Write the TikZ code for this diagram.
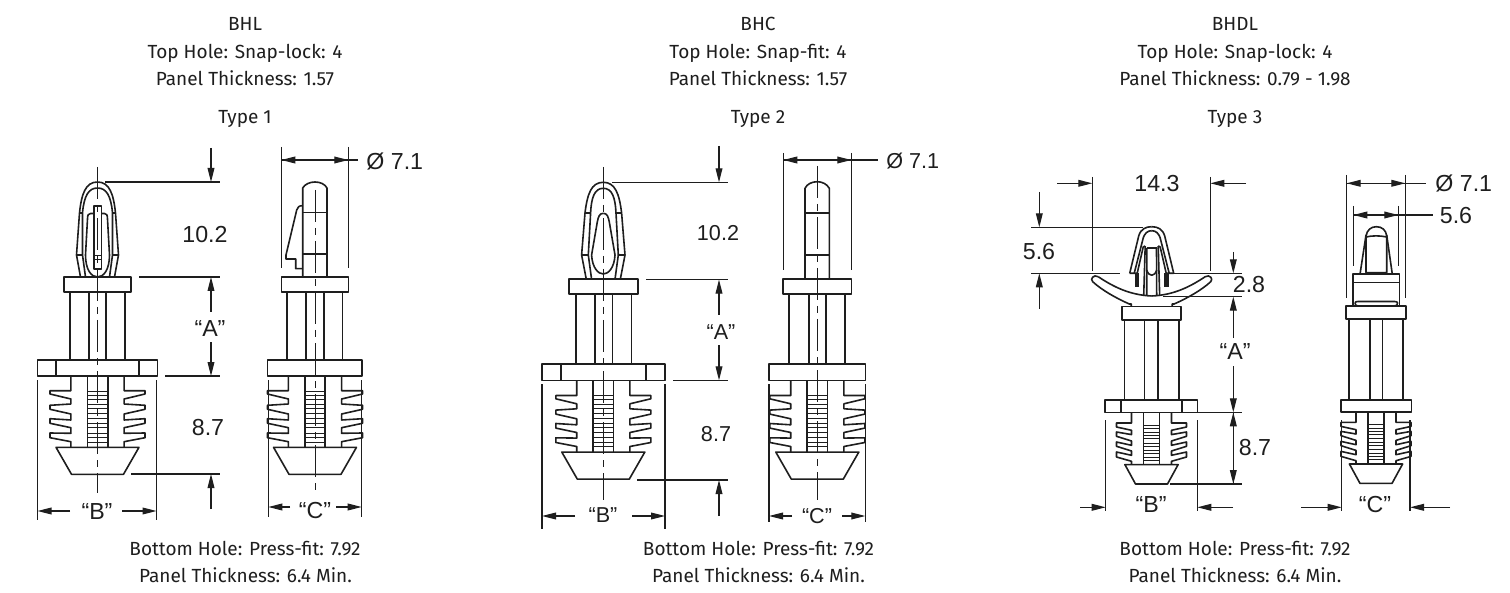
\documentclass[tikz,border=0pt]{standalone}
\usepackage{fontspec}
\setmainfont{Fira Sans}
\newfontfamily\dimfont{Liberation Sans}
\usetikzlibrary{arrows.meta}
\definecolor{ink}{HTML}{1E1E1E}
\tikzset{
 part/.style={draw=ink,line width=0.8pt,line join=round},
 thin part/.style={draw=ink,line width=0.45pt},
 dim/.style={draw=ink,line width=0.55pt},
 arw/.style={dim,-{Triangle[length=7pt,width=3.4pt]}},
 ctr/.style={draw=ink,line width=0.5pt,dash pattern=on 16pt off 3pt on 3.5pt off 3pt},
 cap text/.style={font=\fontsize{9.5}{11}\selectfont,text=ink,inner sep=0pt,anchor=base,yshift=-2.7pt},
 dim text/.style={font=\dimfont\fontsize{11.6}{13}\selectfont,text=ink,inner sep=0pt},
 dim small/.style={font=\dimfont\fontsize{10.8}{13}\selectfont,text=ink,inner sep=0pt},
}
% lower barbed part, Types 1 and 2
\newcommand\lowA[2]{%
 \begin{scope}[shift={(#1,#2)}]
  \foreach \s in {1,-1}{
   \begin{scope}[xscale=\s]
    \draw[part] (26.6,0)--(26.6,14.7)--(47.5,14.7)--(47.5,18)--(26.6,23)--(26.6,28)--(47.5,29.3)--(47.5,33.3)--(26.6,38)--(26.6,44)--(47.5,42.7)--(47.5,47.3)--(26.6,51.7)--(26.6,57.3)--(47.5,57)--(47.5,61.7)--(26.6,65.7)--(26.6,71.3);
    \draw[part] (10.2,0)--(10.2,71.3);
   \end{scope}}
  \foreach \h in {15,19,23.3,28,32.7,37.7,42.7,47,51.7,57,61.7,66}{\draw[thin part] (-10.2,\h)--(10.2,\h);}
  \draw[part] (-41.5,71.3)--(41.5,71.3)--(26,98.3)--(-26,98.3)--cycle;
 \end{scope}}
% lower barbed part, Type 3
\newcommand\lowB[2]{%
 \begin{scope}[shift={(#1,#2)}]
  \foreach \s in {1,-1}{
   \begin{scope}[xscale=\s]
    \draw[part] (20,0)--(20,10.7)--(35,10.7)--(35,14.7)--(20,18)--(20,22.3)--(35,19.7)--(35,24)--(20,28.7)--(20,33)--(35,29.7)--(35,34)--(20,38.7)--(20,43)--(35,39.7)--(35,44.7)--(20,49)--(20,52.3);
    \draw[part] (8,0)--(8,52.3);
   \end{scope}}
  \foreach \h in {13,16.3,19.7,23,26.3,30.7,34,38,41.3,45,47.7}{\draw[thin part] (-8,\h)--(8,\h);}
  \draw[part] (-26.6,52.3)--(26.6,52.3)--(16,71.7)--(-16,71.7)--cycle;
 \end{scope}}
% rectangle helper
\newcommand\bx[4]{\draw[part] (#1,#2) rectangle (#3,#4);}
\begin{document}
\begin{tikzpicture}[x=0.5pt,y=-0.5pt]
\useasboundingbox (0,0) rectangle (1510,593);
\fill[white] (0,0) rectangle (1510,593);
% ---------------- captions
\node[cap text] (t1a) at (245,25) {BHL};
\node[cap text] (t1b) at (245,53) {Top Hole: Snap-lock: 4};
\node[cap text] (t1c) at (245,80) {Panel Thickness: 1.57};
\node[cap text] (t1d) at (245,118) {Type 1};
\node[cap text] (t1e) at (245,550) {Bottom Hole: Press-fit: 7.92};
\node[cap text] (t1f) at (245.5,577) {Panel Thickness: 6.4 Min.};
\node[cap text] (t2a) at (758,25) {BHC};
\node[cap text] (t2b) at (758,53) {Top Hole: Snap-fit: 4};
\node[cap text] (t2c) at (758,80) {Panel Thickness: 1.57};
\node[cap text] (t2d) at (758,118) {Type 2};
\node[cap text] (t2e) at (758.5,550) {Bottom Hole: Press-fit: 7.92};
\node[cap text] (t2f) at (758.5,577) {Panel Thickness: 6.4 Min.};
\node[cap text] (t3a) at (1235,25) {BHDL};
\node[cap text] (t3b) at (1235,53) {Top Hole: Snap-lock: 4};
\node[cap text] (t3c) at (1235,80) {Panel Thickness: 0.79 - 1.98};
\node[cap text] (t3d) at (1235,118) {Type 3};
\node[cap text] (t3e) at (1235,550) {Bottom Hole: Press-fit: 7.92};
\node[cap text] (t3f) at (1235,577) {Panel Thickness: 6.4 Min.};
% ================ TYPE 1 FRONT
\begin{scope}[shift={(97.5,0)}]
 \foreach \s in {1,-1}{\begin{scope}[xscale=\s]
  \draw[part] (17,277)--(21,255)--(18,213) .. controls (16,194) and (12,182) .. (0,182);
  \draw[part] (12,277)--(15,255)--(15,213) .. controls (13.5,196) and (9,188) .. (0,188);
  \draw[part] (18,213)--(14.5,213) (21,255)--(15,255);
  \draw[part] (3.8,213.5)--(7,213.5) .. controls (9,213.5) and (10,215) .. (10,219)--(12,255) .. controls (12,270) and (6,277) .. (0,277);
 \end{scope}}
 \draw[part] (-3.8,206) rectangle (3.8,269);
 \draw[thin part] (-3.8,255)--(3.8,255) (-3.8,259)--(3.8,259);
 \draw[ctr] (0,167)--(0,493);
\end{scope}
\bx{64}{277}{131}{292}
\draw[part] (70,292)--(70,360) (88.7,292)--(88.7,360) (106,292)--(106,360) (125,292)--(125,360);
\bx{37.5}{360}{157.5}{376}
\draw[part] (56,360)--(56,376) (138.7,360)--(138.7,376);
\lowA{97.5}{376}
% dims
\draw[arw] (211,148)--(211,182);
\draw[dim] (105,182)--(220,182) (139,277)--(220,277) (165,376)--(220,376) (131,474)--(220,474);
\draw[arw] (211,312)--(211,277);
\draw[arw] (211,342)--(211,376);
\draw[arw] (211,509)--(211,474);
\node[dim text] (d1a) at (205,235) {10.2};
\node[dim text] (d1b) at (210,329) {“A”};
\node[dim text] (d1c) at (208,428) {8.7};
\draw[dim] (37.5,380)--(37.5,520) (156.5,380)--(156.5,520);
\draw[arw] (70,511)--(37.5,511);
\draw[arw] (122,511)--(156.5,511);
\node[dim text] (d1d) at (97,512) {“B”};
% ================ TYPE 1 SIDE
\draw[part] (302.7,277)--(302.7,188) .. controls (305,184) and (310,182) .. (315,182) .. controls (320,182) and (325,184) .. (327,188)--(327,277);
\draw[part] (302.7,212.7)--(327,212.7) (302.7,254)--(327,254);
\draw[part] (302.7,205.7) .. controls (299,205.7) and (297.5,207) .. (296.7,210)--(286,255)--(286,259)--(295.7,259)--(295.7,268.7)--(302.7,268.7);
\bx{281.3}{277}{348.3}{292}
\draw[part] (287,292)--(287,360) (306,292)--(306,360) (323.7,292)--(323.7,360) (342.3,292)--(342.3,360);
\bx{267.5}{360}{362}{376}
\lowA{315}{376}
\draw[ctr] (315,190)--(315,493);
\draw[dim] (281.3,147)--(281.3,268) (348.3,147)--(348.3,268) (281.3,160)--(358,160);
\draw[arw] (299,160)--(281.3,160);
\draw[arw] (331,160)--(348.3,160);
\node[dim text,anchor=west] (d1e) at (366,161) {Ø 7.1};
\draw[dim] (268.3,380)--(268.3,517) (361.7,380)--(361.7,517);
\draw[arw] (290,507)--(268.3,507);
\draw[arw] (336,507)--(361.7,507);
\node[dim text] (d1f) at (315,511) {“C”};
% ================ TYPE 2 FRONT
\begin{scope}[shift={(603.3,0)}]
 \foreach \s in {1,-1}{\begin{scope}[xscale=\s]
  \draw[part] (17,279.3)--(21.7,255)--(18.3,213) .. controls (16,194) and (12,182.3) .. (0,182.3);
  \draw[part] (11.7,279.3)--(15,255)--(12.7,213) .. controls (12,198) and (9,188.3) .. (0,188.3);
  \draw[part] (18.3,213)--(12.7,213) (21.7,255)--(15,255);
  \draw[part] (0,213.3) .. controls (4,213.3) and (5,217) .. (6,222)--(11.7,255) .. controls (11,268) and (5,274) .. (0,274);
 \end{scope}}
 \draw[ctr] (0,167)--(0,500);
\end{scope}
\bx{569}{279.3}{637.7}{294.3}
\draw[part] (575.7,294.3)--(575.7,364) (594.7,294.3)--(594.7,364) (612.3,294.3)--(612.3,364) (631.3,294.3)--(631.3,364);
\bx{542}{364}{665}{380.3}
\draw[part] (561,364)--(561,380.3) (645.7,364)--(645.7,380.3);
\lowA{603.3}{380.8}
\draw[arw] (719,146)--(719,182.3);
\draw[dim] (612,182.3)--(728,182.3) (646,279.6)--(728,279.6) (673,380.3)--(728,380.3) (637,480)--(728,480);
\draw[arw] (719,315)--(719,279.6);
\draw[arw] (719,345)--(719,380.3);
\draw[arw] (719,516)--(719,480);
\node[dim small] (d2a) at (718,233) {10.2};
\node[dim small] (d2b) at (721,332) {“A”};
\node[dim small] (d2c) at (716,434) {8.7};
\draw[dim] (542,384)--(542,529) (665,384)--(665,529);
\draw[arw] (575,516)--(542,516);
\draw[arw] (632,516)--(665,516);
\node[dim small] (d2d) at (603,515) {“B”};
% ================ TYPE 2 SIDE
\draw[part] (805,279.3)--(805,188.3) .. controls (807,184) and (812,181.7) .. (817.3,181.7) .. controls (822,181.7) and (827,184) .. (829.3,188.3)--(829.3,279.3);
\draw[part] (805,213.3)--(829.3,213.3) (805,255)--(829.3,255);
\bx{783}{279.3}{851.3}{294}
\draw[part] (789,294)--(789,363.7) (808.7,294)--(808.7,363.7) (825.7,294)--(825.7,363.7) (845,294)--(845,363.7);
\bx{769}{363.7}{865.3}{380.3}
\lowA{817.3}{380.8}
\draw[ctr] (817.3,166)--(817.3,500);
\draw[dim] (783.3,153)--(783.3,270) (851.3,153)--(851.3,270) (783.3,160)--(878,160);
\draw[arw] (802,160)--(783.3,160);
\draw[arw] (834,160)--(851.3,160);
\node[dim small,anchor=west] (d2e) at (886,161) {Ø 7.1};
\draw[dim] (769,384)--(769,522) (865.3,384)--(865.3,522);
\draw[arw] (792,516)--(769,516);
\draw[arw] (842,516)--(865.3,516);
\node[dim small] (d2f) at (817,516) {“C”};
% ================ TYPE 3 FRONT
\begin{scope}[shift={(1151.7,0)}]
 \foreach \s in {1,-1}{\begin{scope}[xscale=\s]
  \draw[part] (22,273.3)--(13,236) .. controls (11,229) and (6,226.7) .. (0,226.7);
  \draw[part] (17.5,273.3)--(9,240) .. controls (7.5,233) and (4,230.7) .. (0,230.7);
  \draw[part] (22,273.3)--(14.5,273.3)--(8.5,247)--(6.5,246);
  \draw[part] (6.5,246)--(8,296);
  \draw[part] (4.8,248)--(5,296);
  \fill[ink] (12.5,273.3) rectangle (17,286.7);
  % wing
  \draw[part] (53.5,276.7) .. controls (38,287) and (22,295) .. (0,296);
  \draw[part] (53.5,276.7) .. controls (58,274) and (62,279) .. (59,281.7) .. controls (50,290) and (36,298) .. (22.4,304)--(20.5,304)--(20.5,306.7);
 \end{scope}}
 \draw[part] (-4.8,248)--(4.8,248);
 \draw[part] (-5,270) .. controls (-3,277) and (3,277) .. (5,270);
\end{scope}
\bx{1121.7}{306.7}{1181}{320}
\draw[part] (1124.3,320)--(1124.3,400) (1144.5,320)--(1144.5,400) (1157.7,320)--(1157.7,400) (1178.7,320)--(1178.7,400);
\bx{1105}{400}{1197.3}{412.3}
\draw[part] (1120.7,400)--(1120.7,412.3) (1181.7,400)--(1181.7,412.3);
\lowB{1151.5}{412.3}
\draw[dim] (1092.3,177)--(1092.3,271) (1210.3,177)--(1210.3,271);
\draw[arw] (1057,183.3)--(1092.3,183.3);
\draw[arw] (1246,183.3)--(1210.3,183.3);
\node[dim text] (d3a) at (1157,184) {14.3};
\draw[dim] (1031,227.3)--(1143,227.3) (1031,273.3)--(1120,273.3);
\draw[arw] (1039.3,192)--(1039.3,227.3);
\draw[arw] (1039.3,309)--(1039.3,273.3);
\node[dim text] (d3b) at (1039,252) {5.6};
\draw[dim] (1173,273.3)--(1242,273.3) (1163,296.7)--(1242,296.7);
\draw[arw] (1233.3,252)--(1233.3,273.3);
\draw[arw] (1233.3,338)--(1233.3,296.7);
\node[dim text] (d3c) at (1249,285) {2.8};
\node[dim text] (d3d) at (1235,352) {“A”};
\draw[arw] (1233.3,366)--(1233.3,412.3);
\draw[arw] (1233.3,430)--(1233.3,412.3);
\draw[dim] (1233.3,412.3)--(1233.3,484) (1193,412.3)--(1242,412.3) (1170,484)--(1242,484);
\draw[arw] (1233.3,465)--(1233.3,484);
\node[dim text] (d3e) at (1255,448) {8.7};
\draw[dim] (1105.7,420)--(1105.7,511) (1197.3,420)--(1197.3,511);
\draw[arw] (1080,507.3)--(1105.7,507.3);
\draw[arw] (1233,507.3)--(1197.3,507.3);
\node[dim text] (d3f) at (1151,505) {“B”};
% ================ TYPE 3 SIDE
\begin{scope}[shift={(1376,0)}]
 \draw[part] (-10,272.7)--(-10,236) .. controls (-9,230) and (-5,226.7) .. (0.3,226.7) .. controls (6,226.7) and (10,230) .. (10.7,236)--(10.7,272.7)--cycle;
 \draw[part] (-10,237) .. controls (-4,235.5) and (4,235.5) .. (10.7,237);
 \draw[part] (-10,235)--(-16,274.3) (10.7,235)--(16.3,274.3);
 \fill[ink] (-5,272.5) rectangle (5.5,274.3);
 \draw[part] (-23,274.3) rectangle (23.3,306);
 \draw[part] (-23,282.7)--(23.3,282.7);
 \draw[part] (-21,303) .. controls (-21,302) and (-20,301.5) .. (-18,301.5)--(18.5,301.5) .. controls (20.5,301.5) and (21.6,302) .. (21.6,303) .. controls (21.6,305) and (20.5,306) .. (18,306);
 \draw[part] (-21,303) .. controls (-21,305) and (-20,306) .. (-18,306);
 \draw[part] (-30.2,306) rectangle (30,319);
 \draw[part] (-27,319)--(-27,400) (-6.3,319)--(-6.3,400) (6.3,319)--(6.3,400) (27,319)--(27,400);
 \draw[part] (-35,400) rectangle (35.3,411.7);
\end{scope}
\lowB{1376}{411.7}
\draw[dim] (1346.7,175)--(1346.7,298) (1405.3,175)--(1405.3,298) (1346.7,183.3)--(1426,183.3);
\draw[arw] (1364,183.3)--(1346.7,183.3);
\draw[arw] (1388,183.3)--(1405.3,183.3);
\node[dim text,anchor=west] (d3g) at (1435,183) {Ø 7.1};
\draw[dim] (1353.3,206)--(1353.3,266) (1398.3,206)--(1398.3,266) (1353.3,215)--(1433,215);
\draw[arw] (1367,215)--(1353.3,215);
\draw[arw] (1385,215)--(1398.3,215);
\node[dim text] (d3h) at (1456,216) {5.6};
\draw[dim] (1341.7,420)--(1341.7,511) (1410,420)--(1410,511);
\draw[arw] (1301,507.3)--(1341.7,507.3);
\draw[arw] (1450,507.3)--(1410,507.3);
\node[dim text] (d3i) at (1375,505) {“C”};
\end{tikzpicture}
\end{document}
